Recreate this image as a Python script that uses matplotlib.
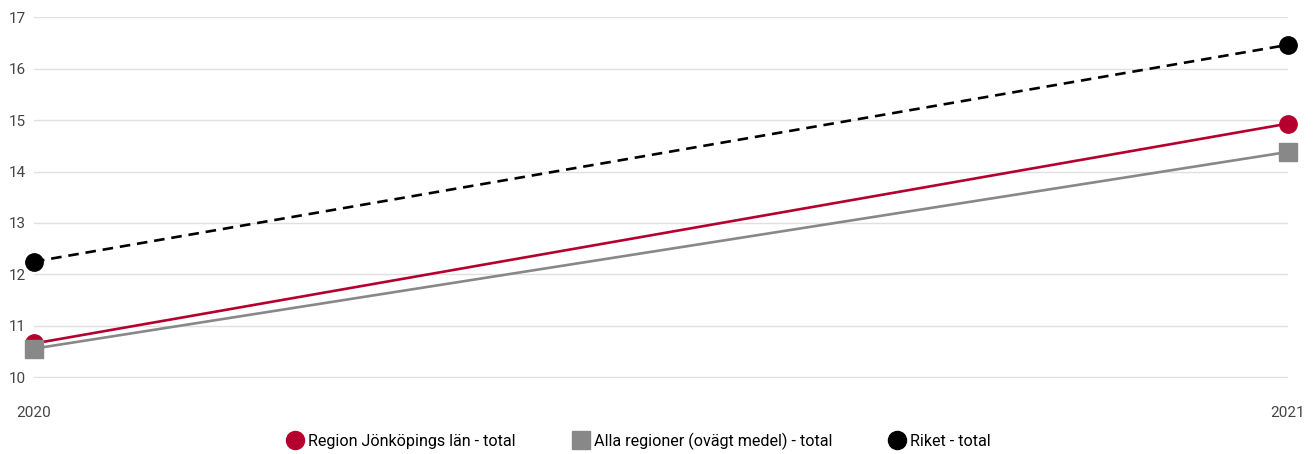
import matplotlib.pyplot as plt
from matplotlib.lines import Line2D

plt.rcParams['font.family'] = ['Roboto', 'DejaVu Sans']

# --- Data ---
years = [2020, 2021]
region_jkpg = [10.66, 14.93]
alla_regioner = [10.56, 14.38]
riket = [12.25, 16.46]

labels = ["Region Jönköpings län - total",
          "Alla regioner (ovägt medel) - total",
          "Riket - total"]
colors = ["#b5002f", "#888888", "#000000"]

fig = plt.figure(figsize=(13.13, 4.54), dpi=100)
ax = fig.add_axes([34 / 1313, 1 - 378 / 454, (1288 - 34) / 1313, (378 - 16.5) / 454])

ax.plot(years, region_jkpg, color=colors[0], lw=1.9, marker="o", ms=12.5,
        clip_on=False, zorder=3)
ax.plot(years, alla_regioner, color=colors[1], lw=1.9, marker="s", ms=12.5,
        clip_on=False, zorder=4)
ax.plot(years, riket, color=colors[2], lw=1.9, marker="o", ms=12.5,
        linestyle=(0, (4, 2.6)), clip_on=False, zorder=5)

ax.set_xlim(2020, 2021)
ax.set_ylim(9.99, 17.01)
ax.set_yticks(range(10, 18))
ax.set_xticks(years)
ax.set_xticklabels([str(y) for y in years])
ax.grid(axis="y", color="#e0e0e0", lw=1)
ax.set_axisbelow(True)
for s in ax.spines.values():
    s.set_visible(False)
ax.tick_params(axis="both", length=0, labelsize=11, labelcolor="#444444")
ax.tick_params(axis="y", pad=6)
ax.tick_params(axis="x", pad=20)

handles = [
    Line2D([], [], color=colors[0], marker="o", ms=13, lw=0),
    Line2D([], [], color=colors[1], marker="s", ms=13, lw=0),
    Line2D([], [], color=colors[2], marker="o", ms=13, lw=0),
]
fig.legend(handles, labels, loc="center", bbox_to_anchor=(638 / 1313, 1 - 441 / 454),
           ncol=3, frameon=False, fontsize=11.6, handletextpad=0.2,
           columnspacing=3.45, handlelength=1.2)

fig.savefig("out.png", dpi=100)
